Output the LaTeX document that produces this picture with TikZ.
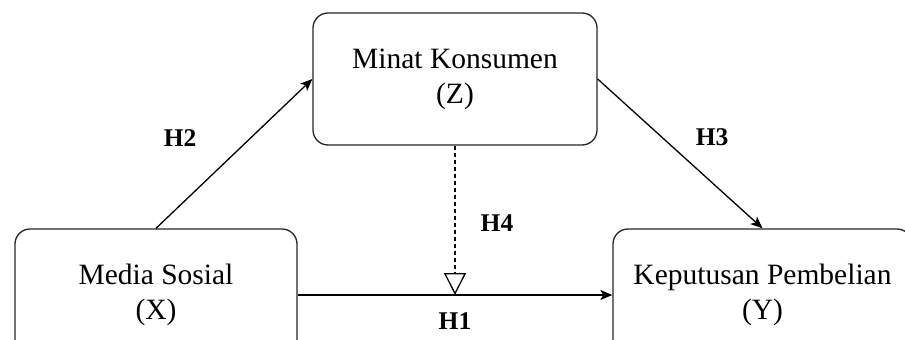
\documentclass[tikz,border=0pt]{standalone}
\usepackage{fontspec}
\setmainfont{Liberation Serif}
\usepackage{tikz}
\usetikzlibrary{arrows.meta,positioning}

\begin{document}
\begin{tikzpicture}[
  x=1pt, y=-1pt,
  varnode/.style={rectangle, rounded corners=15pt, draw=black!85, line width=1.3pt, fill=white,
                  align=center, font=\fontsize{29.5}{35}\selectfont, inner sep=0pt},
  hyplabel/.style={font=\fontsize{25.5}{28}\selectfont\bfseries, inner sep=0pt},
  every edge/.style={  % arrows between the variables
            draw,
            -{Stealth[length=12pt,width=10pt,inset=3pt]},
            line width=1.3pt}
]
  \useasboundingbox (0,0) rectangle (905,340);

  \node[varnode, minimum width=284pt, minimum height=132pt] (MK) at (455,79)   {Minat Konsumen\\(Z)};
  \node[varnode, minimum width=282pt, minimum height=132pt] (MS) at (156,295)  {Media Sosial\\(X)};
  \node[varnode, minimum width=299pt, minimum height=132pt] (KP) at (762.5,295) {Keputusan Pembelian\\(Y)};

  \coordinate (M) at (MK.south |- MS.east);

  \draw (MS.north) edge node[hyplabel, xshift=-54pt, yshift=16pt] {H2} (MK.west);
  \draw (MK.east)  edge node[hyplabel, xshift=32pt, yshift=16pt] {H3} (KP.north);
  \draw (MS.east)  edge node[hyplabel, yshift=-26pt] {H1} (KP.west);
  \draw (MK.south) edge [dash pattern=on 4pt off 3pt, -{Triangle[open,length=22pt,width=22pt,line width=1.3pt]}]
        node[hyplabel, xshift=42pt, yshift=-3pt] {H4} (M);

\end{tikzpicture}
\end{document}
